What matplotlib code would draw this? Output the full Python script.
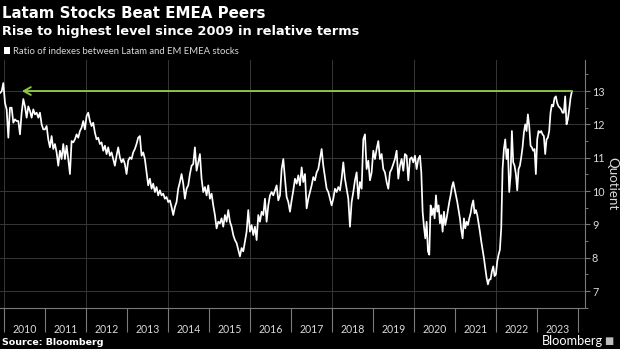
import matplotlib
matplotlib.use("Agg")
import matplotlib.pyplot as plt
import matplotlib.dates as mdates
from matplotlib.patches import Patch
import pandas as pd

plt.rcParams['font.family'] = ['Lato', 'DejaVu Sans']

title = "Latam Stocks Beat EMEA Peers"
subtitle = "Rise to highest level since 2009 in relative terms"
series_label = "Ratio of indexes between Latam and EM EMEA stocks"
source = "Source: Bloomberg"
brand = "Bloomberg"
y_label = "Quotient"

years = list(range(2010, 2024))
grid_years = [2010, 2012, 2014, 2016, 2018, 2020, 2022]
y_ticks = [7, 8, 9, 10, 11, 12, 13]
record_level = 13.0
arrow_tip_date = "2010-06-06"

seg1_dates = ("2009-11-23", "2013-04-08")
seg1_vals = [12.94, 12.99, 13.24, 12.64, 12.45, 11.60, 12.50, 12.50, 12.05, 12.15,
             12.10, 12.10, 11.70, 12.35, 12.76, 12.54, 12.20, 12.54, 12.40, 12.20,
             12.45, 12.30, 12.35, 12.20, 12.35, 12.00, 11.85, 11.85, 11.95, 11.55,
             11.31, 11.65, 11.26, 11.41, 11.16, 10.76, 11.21, 10.96, 11.41, 10.96,
             11.36, 10.96, 10.51, 11.50, 11.46, 11.55, 11.70, 11.60, 11.80, 11.90,
             12.10, 11.85, 12.25, 12.35, 12.10, 11.95, 12.05, 11.75, 11.55, 11.60,
             11.41, 11.46, 11.21, 11.36, 11.11, 11.31, 11.06, 11.16, 10.96, 10.76,
             11.06, 11.31, 11.01, 10.86, 10.96, 10.81, 10.51, 10.91, 11.01, 10.96,
             11.16, 11.26, 11.41, 11.60]

seg2_dates = ("2013-04-23", "2016-09-08")
seg2_vals = [11.65, 11.06, 11.16, 10.96, 10.56, 10.17, 10.37, 10.07, 10.22, 9.97,
             10.12, 9.87, 10.02, 9.87, 9.92, 9.77, 9.82, 9.67, 9.72, 9.52,
             9.28, 9.52, 9.67, 10.07, 10.27, 10.51, 10.22, 9.77, 10.07, 10.17,
             10.51, 10.76, 10.81, 11.31, 10.61, 10.86, 11.11, 10.37, 9.97, 10.12,
             9.87, 10.17, 9.77, 9.92, 9.57, 9.28, 8.88, 9.08, 9.03, 9.18,
             8.93, 9.28, 9.08, 9.43, 9.08, 8.93, 8.68, 8.53, 8.44, 8.24,
             8.04, 8.29, 8.19, 8.49, 8.78, 9.43, 8.78, 8.98, 8.68, 8.93,
             8.53, 9.28, 9.08, 9.38, 9.28, 9.77, 9.08, 9.57, 9.87, 9.97,
             9.87, 10.02, 10.17, 9.72]

seg3_dates = ("2016-09-23", "2020-02-08")
seg3_vals = [9.87, 10.66, 10.96, 10.37, 9.82, 9.67, 9.38, 9.72, 10.02, 10.37,
             10.22, 10.47, 10.17, 10.71, 10.27, 10.51, 9.48, 9.77, 9.97, 10.17,
             10.42, 10.32, 10.56, 10.66, 10.96, 11.26, 10.76, 10.42, 10.07, 9.97,
             9.77, 9.57, 9.77, 10.07, 9.97, 10.12, 10.02, 10.37, 10.86, 10.37,
             10.07, 9.77, 8.93, 9.67, 9.97, 10.32, 10.56, 9.77, 10.27, 10.07,
             11.55, 11.70, 10.66, 10.91, 10.32, 10.56, 11.21, 10.96, 11.26, 11.50,
             10.96, 11.11, 10.66, 10.56, 10.27, 10.07, 10.56, 10.66, 10.81, 10.96,
             11.21, 10.37, 10.76, 10.96, 10.61, 11.11, 11.06, 10.32, 10.96, 11.01,
             10.86, 11.06, 10.66, 10.96]

seg4_dates = ("2020-02-23", "2023-11-08")
seg4_vals = [11.06, 10.56, 9.38, 8.93, 8.58, 9.08, 8.19, 8.09, 9.57, 9.28,
             9.48, 9.18, 9.87, 9.38, 9.57, 9.03, 9.28, 8.78, 9.38, 8.98,
             9.18, 9.43, 9.67, 9.87, 10.12, 10.27, 10.07, 9.87, 9.67, 9.43,
             9.18, 8.83, 8.58, 9.18, 8.88, 9.08, 8.98, 9.18, 9.33, 9.57,
             9.72, 9.33, 9.43, 9.28, 9.03, 8.78, 8.49, 8.24, 7.99, 7.69,
             7.40, 7.20, 7.35, 7.35, 7.59, 7.74, 7.45, 7.50, 7.89, 8.09,
             8.24, 8.88, 10.66, 11.26, 11.55, 10.96, 11.26, 9.97, 10.47, 11.80,
             10.86, 10.76, 10.51, 10.02, 10.66, 10.76, 11.01, 11.31, 11.75, 12.00,
             11.80, 12.30, 11.95, 11.36, 11.31, 11.21, 11.26, 10.51, 11.55, 11.80,
             11.75, 11.80, 11.70, 11.65, 11.11, 11.55, 11.60, 11.80, 12.35, 12.59,
             12.54, 12.79, 12.84, 12.64, 12.54, 12.50, 12.45, 12.35, 12.35, 12.84,
             12.00, 12.15, 12.45, 12.79, 12.99]

segments = [(seg1_dates, seg1_vals), (seg2_dates, seg2_vals),
            (seg3_dates, seg3_vals), (seg4_dates, seg4_vals)]
parts = []
for (d0, d1), vals in segments:
    idx = pd.date_range(d0, d1, periods=len(vals))
    parts.append(pd.Series(vals, index=idx))
series = pd.concat(parts)

FG = '#d9d9d9'
GRID = '#363636'
AXC = '#7a7a7a'
BOLD_FONT = ['DejaVu Sans']

fig = plt.figure(figsize=(6.2, 3.49), dpi=100, facecolor='black')
ax = fig.add_axes([0.0, 0.1183, 0.9435, 0.828 - 0.1183])
ax.set_facecolor('black')

# grid
for y in y_ticks:
    ax.axhline(y, color=GRID, lw=0.7, zorder=0)
for gy in grid_years:
    ax.axvline(pd.Timestamp(f"{gy}-01-01"), color=GRID, lw=0.7, zorder=0)

ax.plot(series.index, series.values, color='white', lw=1.25, zorder=3,
        label=series_label)

ax.annotate('', xy=(pd.Timestamp(arrow_tip_date), record_level),
            xytext=(series.index[-1], record_level),
            arrowprops=dict(arrowstyle='->,head_length=0.5,head_width=0.28',
                            color='#8dc63f', lw=1.4, shrinkA=0, shrinkB=0),
            zorder=4)

ax.set_xlim(pd.Timestamp("2009-11-23"), pd.Timestamp("2024-03-04"))
ax.set_ylim(6.58, 13.93)

# x axis: labels at mid-year, separators at year boundaries
ax.set_xticks([pd.Timestamp(f"{y}-07-02") for y in years])
ax.set_xticklabels([str(y) for y in years])
ax.set_xticks([pd.Timestamp(f"{y}-01-01") for y in years + [2024]], minor=True)
ax.tick_params(axis='x', which='major', length=0, pad=11.5, labelsize=7.6,
               labelcolor=FG)
ax.tick_params(axis='x', which='minor', length=17.5, width=0.8, color=AXC,
               direction='out')

# y axis on right
ax.yaxis.tick_right()
ax.yaxis.set_label_position('right')
ax.set_yticks(y_ticks)
ax.set_yticks([v + 0.5 for v in [6] + y_ticks], minor=True)
ax.tick_params(axis='y', which='major', length=3.5, width=0.8, color=AXC,
               labelsize=7.8, labelcolor=FG, pad=1.5)
ax.tick_params(axis='y', which='minor', length=2, width=0.7, color=AXC)
ax.set_ylabel(y_label, rotation=270, color=FG, fontsize=9.6, labelpad=10)

for s in ['top', 'left']:
    ax.spines[s].set_visible(False)
for s in ['right', 'bottom']:
    ax.spines[s].set_color(AXC)
    ax.spines[s].set_linewidth(0.8)

# texts
fig.text(0.004, 0.9476, title, fontsize=10.8, fontweight='bold', color='white',
         va='baseline', ha='left', family=BOLD_FONT)
fig.text(0.004, 0.8997, subtitle, fontsize=9.3, fontweight='bold', color='white',
         va='baseline', ha='left', family=BOLD_FONT)
leg = fig.legend(handles=[Patch(facecolor='white', edgecolor='none', label=series_label)],
                 loc='upper left', bbox_to_anchor=(0.006, 0.866), frameon=False,
                 fontsize=6.8, handlelength=0.65, handleheight=0.65,
                 handletextpad=0.3, borderpad=0, borderaxespad=0, labelcolor=FG)
fig.text(0.004, 0.012, source, fontsize=6.8, fontweight='bold', color='white',
         va='baseline', ha='left', family=BOLD_FONT)
fig.text(0.972, 0.012, brand, fontsize=9.2, color='white', va='baseline',
         ha='right')
fig.text(0.989, 0.022, '\u25a0', fontsize=7, color='#bdbdbd', va='center',
         ha='right', family=['DejaVu Sans'])

fig.savefig('out.png', dpi=100, facecolor='black')
